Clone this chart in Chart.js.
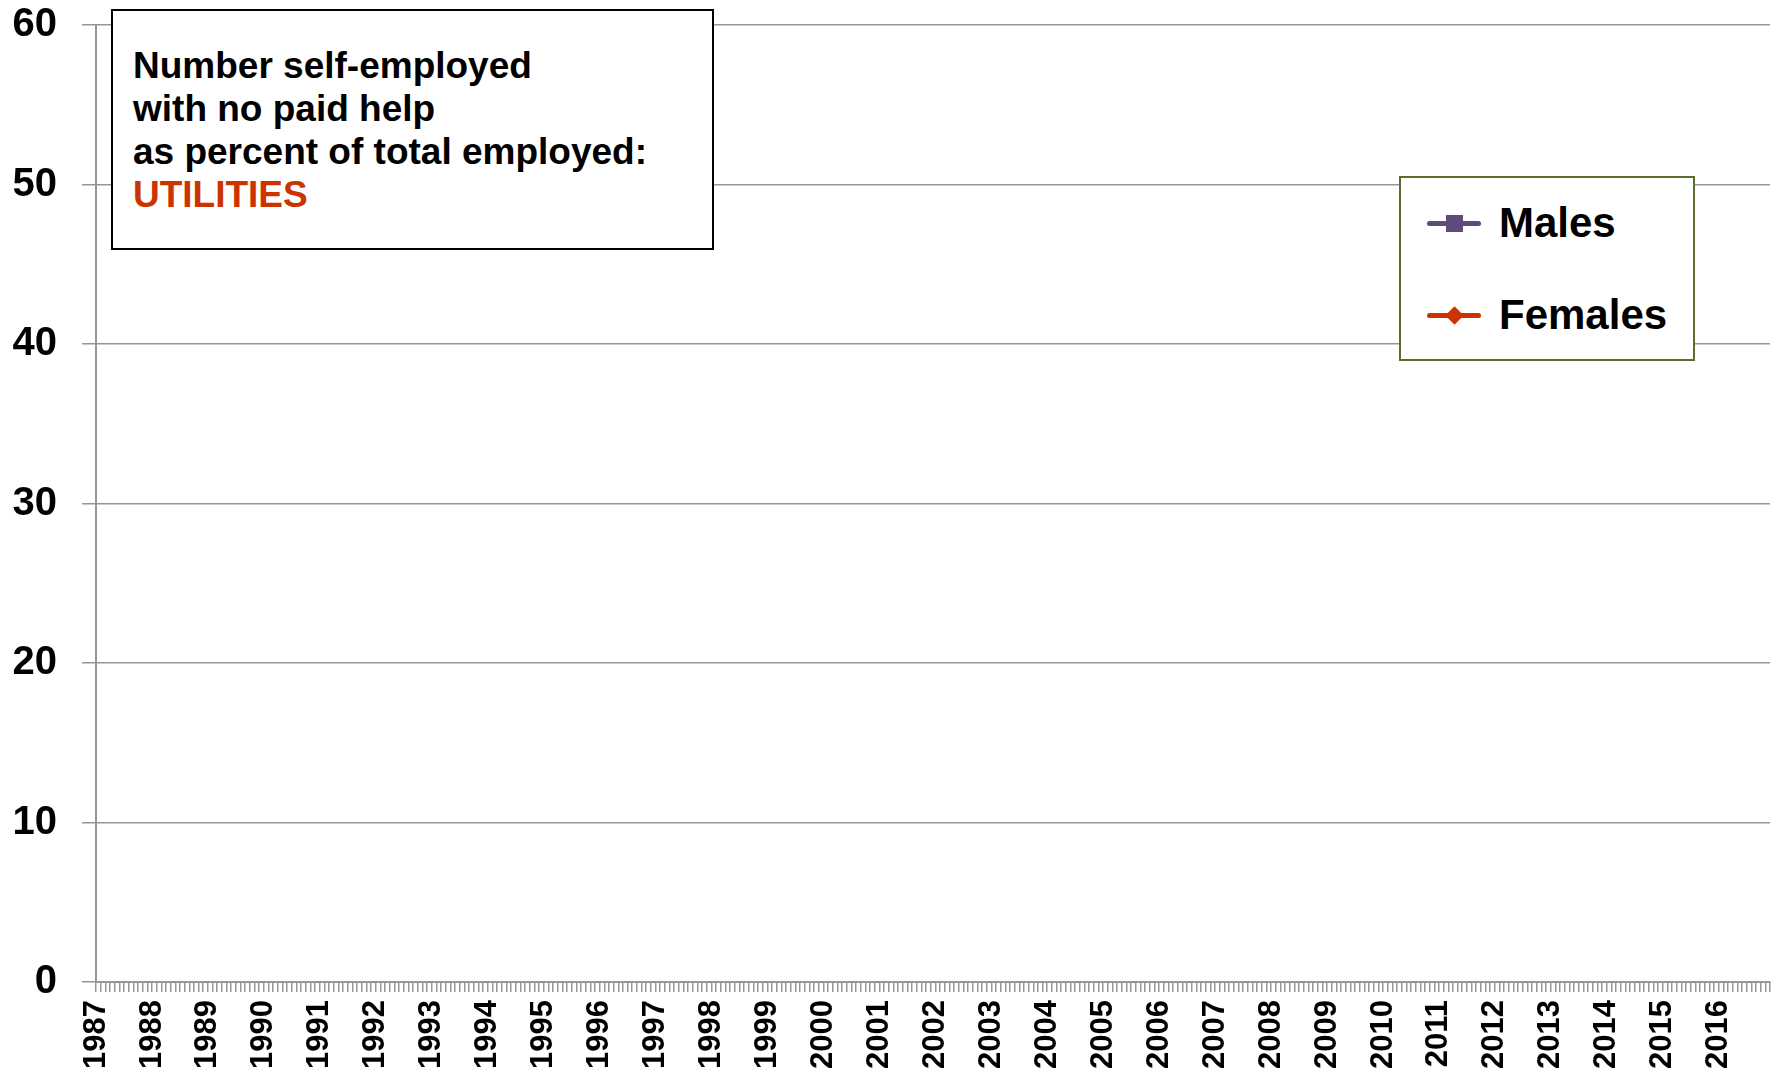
<!DOCTYPE html>
<html>
<head>
<meta charset="utf-8">
<script src="https://cdn.jsdelivr.net/npm/chart.js@4"></script>
<style>
    body { margin: 0; background: #fff; font-family: "Liberation Sans", Arial, sans-serif; }
    #wrap { position: relative; width: 1781px; height: 1074px; }
    .title-box {
        position: absolute; left: 111px; top: 9px; width: 603px; height: 241px;
        border: 2px solid #000; background: #fff; box-sizing: border-box;
        padding: 33px 0 0 20px; font-weight: bold; font-size: 37px; line-height: 43px; color: #000;
    }
    .title-box .hl { color: #cc3300; }
    .legend-box {
        position: absolute; left: 1399px; top: 176px; width: 296px; height: 185px;
        border: 2px solid #5a6e30; background: #fff; box-sizing: border-box;
    }
    .legend-item { position: absolute; left: 26px; height: 40px; width: 260px; }
    .legend-item .line { position: absolute; left: 0; top: 18px; width: 54px; height: 5px; border-radius: 3px; }
    .legend-item .mark { position: absolute; }
    .legend-item .label { position: absolute; left: 72px; top: -4px; font-weight: bold; font-size: 42px; line-height: 48px; color: #000; }
</style>
</head>
<body>
<div id="wrap">
    <canvas id="selfEmployedChart"></canvas>
    <div class="title-box">Number self-employed<br>with no paid help<br>as percent of total employed:<br><span class="hl">UTILITIES</span></div>
    <div class="legend-box">
        <div class="legend-item" style="top: 25px;">
            <div class="line" style="background:#604a7b"></div>
            <div class="mark" style="left:19px;top:12px;width:17px;height:17px;background:#604a7b"></div>
            <div class="label">Males</div>
        </div>
        <div class="legend-item" style="top: 117px;">
            <div class="line" style="background:#cc3300"></div>
            <div class="mark" style="left:21px;top:14px;width:13px;height:13px;background:#cc3300;transform:rotate(45deg)"></div>
            <div class="label">Females</div>
        </div>
    </div>
</div>
<script>
const years = [1987, 1988, 1989, 1990, 1991, 1992, 1993, 1994, 1995, 1996,
               1997, 1998, 1999, 2000, 2001, 2002, 2003, 2004, 2005, 2006,
               2007, 2008, 2009, 2010, 2011, 2012, 2013, 2014, 2015, 2016];
const yTicks = [0, 10, 20, 30, 40, 50, 60];

// no values are plotted in the source chart
const males = [];
const females = [];

// monthly categories, a label only on January
const months = [];
years.forEach(y => {
    for (let m = 1; m <= 12; m++) months.push(y + '-' + String(m).padStart(2, '0'));
});

const gray = '#979797';

document.addEventListener('DOMContentLoaded', function() {
    const canvas = document.getElementById('selfEmployedChart');
    canvas.width = 1781;
    canvas.height = 1074;

    new Chart(canvas, {
        type: 'line',
        data: {
            labels: months,
            datasets: [
                {
                    label: 'Males',
                    data: males,
                    borderColor: '#604a7b',
                    backgroundColor: '#604a7b',
                    borderWidth: 5,
                    pointStyle: 'rect',
                    pointRadius: 8
                },
                {
                    label: 'Females',
                    data: females,
                    borderColor: '#cc3300',
                    backgroundColor: '#cc3300',
                    borderWidth: 5,
                    pointStyle: 'rectRot',
                    pointRadius: 9
                }
            ]
        },
        options: {
            responsive: false,
            animation: false,
            layout: { padding: { top: 25, right: 11, left: 0, bottom: 0 } },
            plugins: {
                legend: { display: false },
                tooltip: { enabled: false }
            },
            scales: {
                x: {
                    type: 'category',
                    offset: false,
                    afterFit: function(scale) {
                        scale.height = 92;
                        scale.paddingLeft = 0;
                        scale.paddingRight = 0;
                    },
                    grid: {
                        drawOnChartArea: false,
                        drawTicks: true,
                        tickLength: 10,
                        color: gray,
                        lineWidth: 1.5
                    },
                    border: { display: true, color: gray, width: 2 },
                    ticks: {
                        autoSkip: false,
                        maxRotation: 90,
                        minRotation: 90,
                        padding: 8,
                        color: '#000',
                        font: { family: 'Liberation Sans', size: 31, weight: 'bold' },
                        callback: function(value, index) {
                            return index % 12 === 0 ? String(years[index / 12]) : '';
                        }
                    }
                },
                y: {
                    min: 0,
                    max: 60,
                    afterFit: function(scale) {
                        scale.width = 96;
                        scale.paddingTop = 0;
                        scale.paddingBottom = 0;
                    },
                    afterBuildTicks: function(scale) {
                        scale.ticks = yTicks.map(v => ({ value: v }));
                    },
                    grid: {
                        color: gray,
                        lineWidth: 1.5,
                        tickLength: 14
                    },
                    border: { display: true, color: gray, width: 2 },
                    ticks: {
                        padding: 25,
                        color: '#000',
                        font: { family: 'Liberation Sans', size: 40, weight: 'bold' }
                    }
                }
            }
        }
    });
});
</script>
</body>
</html>
